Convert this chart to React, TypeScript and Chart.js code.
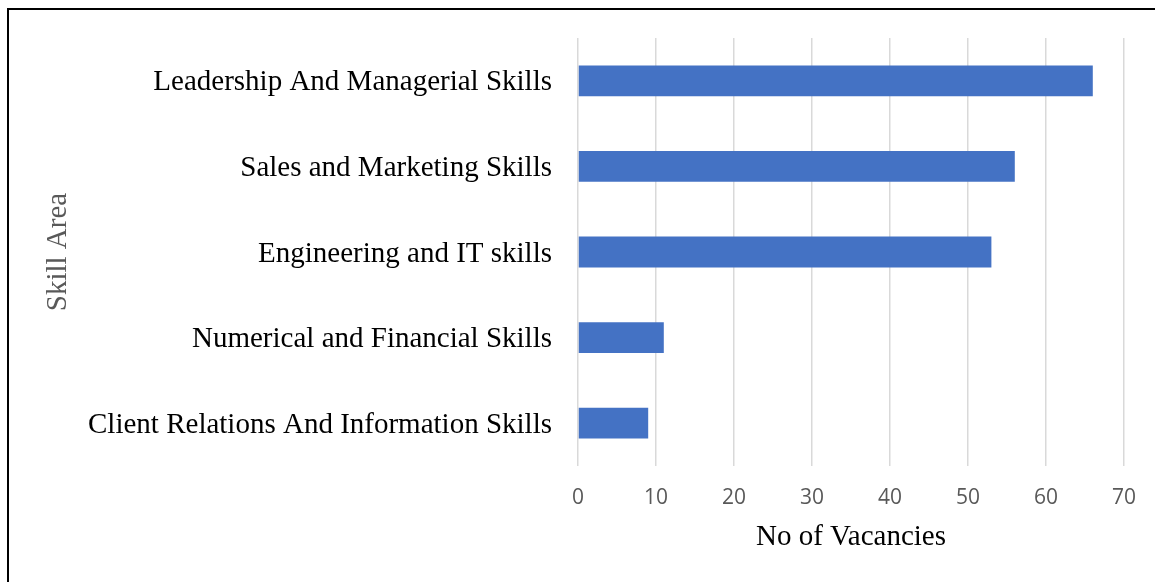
import React, { useEffect, useRef } from "react";
import { Chart, registerables } from "chart.js";

Chart.register(...registerables);

const categories = [
  "Leadership And Managerial Skills",
  "Sales and Marketing Skills",
  "Engineering and IT skills",
  "Numerical and Financial Skills",
  "Client Relations And Information Skills",
];
const vacancies = [66, 56, 53, 11, 9];
const xTicks = [0, 10, 20, 30, 40, 50, 60, 70];
const xTitle = "No of Vacancies";
const yTitle = "Skill Area";

const W = 1155;
const H = 582;

export default function App() {
  const ref = useRef<HTMLCanvasElement | null>(null);

  useEffect(() => {
    if (!ref.current) return;
    const chart = new Chart(ref.current, {
      type: "bar",
      data: {
        labels: categories,
        datasets: [
          {
            data: vacancies,
            backgroundColor: "#4472C4",
            borderWidth: 0,
            barPercentage: 0.36,
            categoryPercentage: 1,
          },
        ],
      },
      options: {
        indexAxis: "y",
        responsive: false,
        animation: false,
        devicePixelRatio: 1,
        layout: { padding: { top: 38, right: 30, bottom: 0, left: 0 } },
        plugins: {
          legend: { display: false },
          tooltip: { enabled: false },
        },
        scales: {
          x: {
            min: 0,
            max: 70,
            afterBuildTicks: (axis: any) => {
              axis.ticks = xTicks.map((v) => ({ value: v }));
            },
            afterFit: (axis: any) => {
              axis.height = H - 466;
            },
            grid: {
              color: "#d9d9d9",
              lineWidth: 1.5,
              drawTicks: false,
            },
            border: { display: false },
            ticks: {
              padding: 19,
              color: "#595959",
              font: { family: "'Open Sans', sans-serif", size: 21 },
            },
            title: {
              display: true,
              text: xTitle,
              color: "#000000",
              font: { family: "'Liberation Serif', serif", size: 29 },
              padding: { top: 0, bottom: 27 },
            },
          },
          y: {
            afterFit: (axis: any) => {
              axis.width = 578;
              axis.paddingTop = 0;
              axis.paddingBottom = 0;
            },
            grid: { display: false, drawTicks: false },
            border: { display: false },
            ticks: {
              padding: 26,
              labelOffset: 2,
              color: "#000000",
              font: { family: "'Liberation Serif', serif", size: 29 },
            },
            title: {
              display: true,
              text: yTitle,
              color: "#595959",
              font: { family: "'Liberation Serif', serif", size: 29 },
              padding: { top: 41, bottom: 0 },
            },
          },
        },
      },
    });
    return () => chart.destroy();
  }, []);

  return (
    <div
      style={{
        position: "fixed",
        left: 0,
        top: 0,
        width: W,
        height: H,
        overflow: "hidden",
        background: "#ffffff",
      }}
    >
      <canvas
        ref={ref}
        width={W}
        height={H}
        style={{ position: "absolute", left: 0, top: 0, width: W, height: H }}
      />
      <div
        style={{
          position: "absolute",
          left: 7,
          top: 8,
          width: 2000,
          height: 2000,
          border: "2px solid #000000",
          pointerEvents: "none",
        }}
      />
    </div>
  );
}
